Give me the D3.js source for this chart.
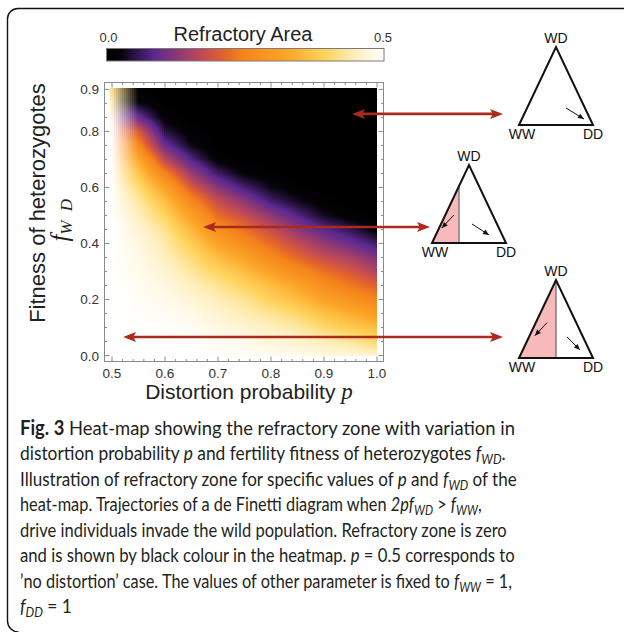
<!DOCTYPE html>
<html>
<head>
<meta charset="utf-8">
<script src="https://cdn.jsdelivr.net/npm/d3@7"></script>
<style>
  body { margin: 0; background: #fff; }
  svg { display: block; font-family: "Liberation Sans", Arial, sans-serif; }
</style>
</head>
<body>
<div id="chart"></div>
<script>
// grid: columns = distortion probability p, rows = f_WD
const pValues = [0.5, 0.55, 0.6, 0.65, 0.7, 0.75, 0.8, 0.85, 0.9, 0.95, 1.0];
const fValues = [0, 0.05, 0.1, 0.15, 0.2, 0.25, 0.3, 0.35, 0.4, 0.45,
                 0.5, 0.55, 0.6, 0.65, 0.7, 0.75, 0.8, 0.85, 0.9, 0.95];
// refractory area (0 .. 0.5), one row per f_WD value
const areaRows = [
  [0.50, 0.50, 0.50, 0.50, 0.495, 0.493, 0.49, 0.483, 0.475, 0.468, 0.46],
  [0.50, 0.50, 0.50, 0.498, 0.488, 0.483, 0.468, 0.46, 0.445, 0.43, 0.40],
  [0.50, 0.50, 0.495, 0.49, 0.475, 0.463, 0.45, 0.435, 0.405, 0.38, 0.36],
  [0.50, 0.495, 0.49, 0.48, 0.46, 0.443, 0.425, 0.40, 0.365, 0.335, 0.30],
  [0.50, 0.493, 0.483, 0.465, 0.445, 0.425, 0.39, 0.36, 0.315, 0.28, 0.25],
  [0.50, 0.49, 0.475, 0.45, 0.425, 0.395, 0.36, 0.32, 0.27, 0.235, 0.205],
  [0.50, 0.485, 0.463, 0.43, 0.395, 0.36, 0.31, 0.265, 0.225, 0.195, 0.16],
  [0.50, 0.48, 0.45, 0.41, 0.36, 0.315, 0.26, 0.215, 0.18, 0.155, 0.115],
  [0.50, 0.475, 0.438, 0.385, 0.315, 0.265, 0.22, 0.175, 0.135, 0.10, 0.065],
  [0.50, 0.465, 0.425, 0.35, 0.27, 0.225, 0.18, 0.13, 0.085, 0.055, 0.015],
  [0.50, 0.45, 0.395, 0.31, 0.22, 0.18, 0.13, 0.08, 0.035, 0.01, 0.002],
  [0.50, 0.435, 0.365, 0.26, 0.18, 0.13, 0.07, 0.035, 0.01, 0, 0],
  [0.50, 0.41, 0.315, 0.20, 0.125, 0.07, 0.03, 0.008, 0, 0, 0],
  [0.50, 0.375, 0.25, 0.14, 0.065, 0.02, 0.005, 0, 0, 0, 0],
  [0.50, 0.33, 0.17, 0.08, 0.015, 0, 0, 0, 0, 0, 0],
  [0.50, 0.26, 0.10, 0.03, 0, 0, 0, 0, 0, 0, 0],
  [0.495, 0.20, 0.05, 0.01, 0, 0, 0, 0, 0, 0, 0],
  [0.48, 0.10, 0.015, 0, 0, 0, 0, 0, 0, 0, 0],
  [0.45, 0.03, 0, 0, 0, 0, 0, 0, 0, 0, 0],
  [0.42, 0, 0, 0, 0, 0, 0, 0, 0, 0, 0]
];

const xTicks = [0.5, 0.6, 0.7, 0.8, 0.9, 1.0];
const xTickLabels = ["0.5", "0.6", "0.7", "0.8", "0.9", "1.0"];
const yTicks = [0, 0.2, 0.4, 0.6, 0.8, 0.95];
const yTickLabels = ["0.0", "0.2", "0.4", "0.6", "0.8", "0.9"];

// colour bar (SunsetColors-like)
const colorStops = [0, 0.05, 0.17, 0.34, 0.42, 0.49, 0.65, 0.79, 0.9, 1];
const colorStopColors = ["#000000", "#06030a", "#5a2890", "#bc4858", "#e2622c",
                         "#f5831a", "#fca628", "#fed45e", "#fff0c2", "#ffffff"];
const colorbarMin = 0, colorbarMax = 0.5;
const colorbarLabels = ["0.0", "0.5"];

// arrows: point (p, f_WD) on the heat-map
const arrowP = [0.953, 0.672, 0.521];
const arrowF = [0.8625, 0.459, 0.066];
// share of the de Finetti triangle that is refractory (pink)
const refractoryShare = [0, 0.365, 0.5];

const caption = [
  [{t: "Fig. 3", b: true}, {t: "  Heat-map showing the refractory zone with variation in"}],
  [{t: "distortion probability "}, {t: "p", i: true}, {t: " and fertility fitness of heterozygotes "}, {t: "f", i: true}, {t: "WD", s: true}, {t: "."}],
  [{t: "Illustration of refractory zone for specific values of "}, {t: "p", i: true}, {t: " and "}, {t: "f", i: true}, {t: "WD", s: true}, {t: " of the"}],
  [{t: "heat-map. Trajectories of a de Finetti diagram when "}, {t: "2pf", i: true}, {t: "WD", s: true}, {t: " > "}, {t: "f", i: true}, {t: "WW", s: true}, {t: ","}],
  [{t: "drive individuals invade the wild population. Refractory zone is zero"}],
  [{t: "and is shown by black colour in the heatmap. "}, {t: "p", i: true}, {t: " = 0.5 corresponds to"}],
  [{t: "\u2019no distortion\u2019 case. The values of other parameter is fixed to "}, {t: "f", i: true}, {t: "WW", s: true}, {t: " = 1,"}],
  [{t: "f", i: true}, {t: "DD", s: true}, {t: " = 1"}]
];
const captionWidths = [495, 486, 497, 462, 487, 495, 492, 52];

const W = 624, H = 632;
const svg = d3.select("#chart").append("svg").attr("width", W).attr("height", H);

// outer rounded border
svg.append("path")
  .attr("d", "M624,8.5 H18 A10.5,10.5 0 0 0 7.5,19 V621 A11,11 0 0 0 18.5,632")
  .attr("fill", "none").attr("stroke", "#111").attr("stroke-width", 1.4);

const x = d3.scaleLinear().domain([0.5, 1.0]).range([112, 377]);
const y = d3.scaleLinear().domain([0, 0.955]).range([355.5, 88]);

const color = d3.scaleLinear()
  .domain(colorStops.map(t => colorbarMin + t * (colorbarMax - colorbarMin)))
  .range(colorStopColors)
  .interpolate(d3.interpolateRgb)
  .clamp(true);

// lookup in the read grid: values are interpolated along f_WD inside a grid column,
// then either by value (most of the map) or by colour (first column, p = 0.5 edge)
const pIdx = d3.scaleLinear().domain(d3.extent(pValues)).range([0, pValues.length - 1]).clamp(true);
const fIdx = d3.scaleLinear().domain(d3.extent(fValues)).range([0, fValues.length - 1]).clamp(true);
function columnValue(col, f) {
  const yi = fIdx(f);
  const y0 = Math.min(Math.floor(yi), fValues.length - 2);
  return d3.interpolateNumber(areaRows[y0][col], areaRows[y0 + 1][col])(yi - y0);
}
function colorAt(p, f) {
  const xi = pIdx(p);
  const x0 = Math.min(Math.floor(xi), pValues.length - 2), tx = xi - x0;
  const a = columnValue(x0, f), b = columnValue(x0 + 1, f);
  if (x0 === 0) return d3.interpolateRgb(color(a), color(b))(tx);
  return color(a + (b - a) * tx);
}

// heat-map cells
const step = 2;
const cells = [];
for (let px = x(0.5) - 2; px < x(1.0); px += step) {
  for (let py = y.range()[1]; py < y.range()[0]; py += step) {
    cells.push({px, py, c: colorAt(x.invert(px + step / 2), y.invert(py + step / 2))});
  }
}
svg.append("g").selectAll("rect").data(cells).enter().append("rect")
  .attr("x", d => d.px).attr("y", d => d.py)
  .attr("width", d => Math.min(step + 0.4, x(1.0) - d.px))
  .attr("height", d => Math.min(step + 0.4, y.range()[0] - d.py))
  .attr("fill", d => d.c)
  .attr("shape-rendering", "crispEdges");

// frame
const frame = {l: 104.5, r: 383.5, t: 82.5, b: 361.5};
svg.append("rect")
  .attr("x", frame.l).attr("y", frame.t)
  .attr("width", frame.r - frame.l).attr("height", frame.b - frame.t)
  .attr("fill", "none").attr("stroke", "#8a8a8a").attr("stroke-width", 1);

const tickG = svg.append("g").attr("stroke", "#8a8a8a").attr("stroke-width", 1);
const xMinor = d3.range(0.5, 1.0001, 0.02);
const yMinor = d3.range(0, 0.951, 0.05);
xMinor.forEach(v => {
  const major = xTicks.some(t => Math.abs(t - v) < 1e-6);
  const len = major ? 5 : 2.5;
  tickG.append("line").attr("x1", x(v)).attr("x2", x(v)).attr("y1", frame.b).attr("y2", frame.b - len);
  tickG.append("line").attr("x1", x(v)).attr("x2", x(v)).attr("y1", frame.t).attr("y2", frame.t + len);
});
yMinor.forEach(v => {
  const major = yTicks.some(t => Math.abs(t - v) < 1e-6);
  const len = major ? 5 : 2.5;
  tickG.append("line").attr("y1", y(v)).attr("y2", y(v)).attr("x1", frame.l).attr("x2", frame.l + len);
  tickG.append("line").attr("y1", y(v)).attr("y2", y(v)).attr("x1", frame.r).attr("x2", frame.r - len);
});

svg.append("g").selectAll("text").data(xTicks).enter().append("text")
  .attr("x", d => x(d)).attr("y", 378)
  .attr("text-anchor", "middle").attr("font-size", 13.5).attr("fill", "#333")
  .text((d, i) => xTickLabels[i]);
svg.append("g").selectAll("text").data(yTicks).enter().append("text")
  .attr("x", 99).attr("y", d => y(d) + 5)
  .attr("text-anchor", "end").attr("font-size", 13.5).attr("fill", "#333")
  .text((d, i) => yTickLabels[i]);

// axis titles
const xTitle = svg.append("text").attr("x", 249).attr("y", 399)
  .attr("text-anchor", "middle").attr("font-size", 21).attr("fill", "#222");
xTitle.append("tspan").text("Distortion probability ");
xTitle.append("tspan").attr("font-family", "'Liberation Serif', serif").attr("font-style", "italic")
  .attr("font-size", 23).text("p");

svg.append("text")
  .attr("transform", "translate(45,203) rotate(-90)")
  .attr("text-anchor", "middle").attr("font-size", 22).attr("fill", "#222")
  .text("Fitness of heterozygotes");
const fLab = svg.append("text")
  .attr("transform", "translate(68,219) rotate(-90)")
  .attr("text-anchor", "middle").attr("fill", "#222")
  .attr("font-family", "'Liberation Serif', serif").attr("font-style", "italic");
fLab.append("tspan").attr("font-size", 25).text("f");
fLab.append("tspan").attr("font-size", 17).attr("dy", 4).attr("letter-spacing", 2.5).text("W D");

// colour bar
const cb = d3.scaleLinear().domain([colorbarMin, colorbarMax]).range([106.5, 384]);
const grad = svg.append("defs").append("linearGradient").attr("id", "cbGrad");
colorStops.forEach((t, i) => grad.append("stop").attr("offset", t).attr("stop-color", colorStopColors[i]));
svg.append("rect").attr("x", cb(colorbarMin)).attr("y", 48.5)
  .attr("width", cb(colorbarMax) - cb(colorbarMin)).attr("height", 12.5)
  .attr("fill", "url(#cbGrad)").attr("stroke", "#7a7a7a").attr("stroke-width", 1);
svg.append("g").selectAll("text").data([colorbarMin, colorbarMax]).enter().append("text")
  .attr("x", (d, i) => cb(d) + (i ? -1 : 2)).attr("y", 41.5)
  .attr("text-anchor", "middle").attr("font-size", 13).attr("fill", "#333")
  .text((d, i) => colorbarLabels[i]);
svg.append("text").attr("x", 243).attr("y", 41).attr("text-anchor", "middle")
  .attr("font-size", 20).attr("fill", "#222").text("Refractory Area");

// de Finetti triangles (apex, half base, height)
const triangles = [
  {cx: 556, top: 47, base: 125, half: 37, rightX: 503},
  {cx: 469, top: 165, base: 243, half: 37, rightX: 430},
  {cx: 556, top: 280, base: 358, half: 37, rightX: 503}
];
const red = "#aa2a1c";
function arrowHead(g, tx, ty, dir, len, hw, fill) {
  g.append("path")
    .attr("d", `M${tx},${ty} L${tx - dir * len},${ty - hw} L${tx - dir * len * 0.78},${ty} L${tx - dir * len},${ty + hw} Z`)
    .attr("fill", fill);
}
function smallArrow(g, x1, y1, x2, y2) {
  g.append("line").attr("x1", x1).attr("y1", y1).attr("x2", x2).attr("y2", y2)
    .attr("stroke", "#111").attr("stroke-width", 1);
  const a = Math.atan2(y2 - y1, x2 - x1), L = 6, w = 2.6;
  const bx = x2 - L * Math.cos(a), by = y2 - L * Math.sin(a);
  g.append("path")
    .attr("d", `M${x2},${y2} L${bx - w * Math.sin(a)},${by + w * Math.cos(a)} L${bx + w * Math.sin(a)},${by - w * Math.cos(a)} Z`)
    .attr("fill", "#111");
}

const arrowG = svg.append("g");
triangles.forEach((tr, i) => {
  const ay = y(arrowF[i]), ax = x(arrowP[i]);
  arrowG.append("line").attr("x1", ax + 10).attr("x2", tr.rightX - 10)
    .attr("y1", ay).attr("y2", ay).attr("stroke", red).attr("stroke-width", 2.6);
  arrowHead(arrowG, ax, ay, -1, 13, 5, red);
  arrowHead(arrowG, tr.rightX, ay, 1, 13, 5, red);

  const g = svg.append("g");
  const L = tr.cx - tr.half, R = tr.cx + tr.half;
  const share = refractoryShare[i];
  if (share > 0) {
    const vx = L + share * 2 * tr.half;
    const vy = tr.base - (vx - L) / tr.half * (tr.base - tr.top);
    g.append("path").attr("d", `M${L},${tr.base} L${vx},${vy} L${vx},${tr.base} Z`)
      .attr("fill", "#f7b9b9");
    g.append("line").attr("x1", vx).attr("x2", vx).attr("y1", vy).attr("y2", tr.base)
      .attr("stroke", "#6e6e6e").attr("stroke-width", 1.3);
    const mx = L + (vx - L) * 0.62, my = tr.base - (tr.base - vy) * 0.35;
    smallArrow(g, mx + 5, my - 8, mx - 7, my + 5);
  }
  g.append("path").attr("d", `M${L},${tr.base} L${tr.cx},${tr.top} L${R},${tr.base} Z`)
    .attr("fill", "none").attr("stroke", "#111").attr("stroke-width", 2).attr("stroke-linejoin", "miter");
  if (share === 0) smallArrow(g, tr.cx + 10, tr.base - 17, tr.cx + 28, tr.base - 6);
  else if (share < 0.5) smallArrow(g, tr.cx + 3, tr.base - 19, tr.cx + 20, tr.base - 8);
  else smallArrow(g, tr.cx + 11, tr.base - 21, tr.cx + 24, tr.base - 8);

  g.append("text").attr("x", tr.cx).attr("y", tr.top - 4).attr("text-anchor", "middle")
    .attr("font-size", 14).attr("fill", "#111").text("WD");
  g.append("text").attr("x", L + 3).attr("y", tr.base + 14).attr("text-anchor", "middle")
    .attr("font-size", 14).attr("fill", "#111").text("WW");
  g.append("text").attr("x", R).attr("y", tr.base + 14).attr("text-anchor", "middle")
    .attr("font-size", 14).attr("fill", "#111").text("DD");
});

// caption
caption.forEach((line, i) => {
  const g = svg.append("g");
  const t = g.append("text").attr("x", 0).attr("y", 0)
    .attr("font-family", "Lato, 'Open Sans', sans-serif").attr("font-size", 20).attr("fill", "#231f20");
  line.forEach(seg => {
    const ts = t.append("tspan").text(seg.t);
    if (seg.b) ts.attr("font-weight", "bold");
    if (seg.i) ts.attr("font-style", "italic");
    if (seg.s) ts.attr("font-style", "italic").attr("font-size", 14).attr("dy", 4);
  });
  // undo subscript shifts
  t.selectAll("tspan").each(function(d, k, nodes) {
    const prev = nodes[k - 1];
    if (prev && prev.getAttribute("dy") === "4" && this.getAttribute("dy") !== "4") this.setAttribute("dy", -4);
  });
  const natural = t.node().getComputedTextLength();
  const sx = captionWidths[i] / natural;
  g.attr("transform", `translate(20,${434.5 + i * 25.5}) scale(${Math.min(sx, 1.05)},1)`);
});
</script>
</body>
</html>
